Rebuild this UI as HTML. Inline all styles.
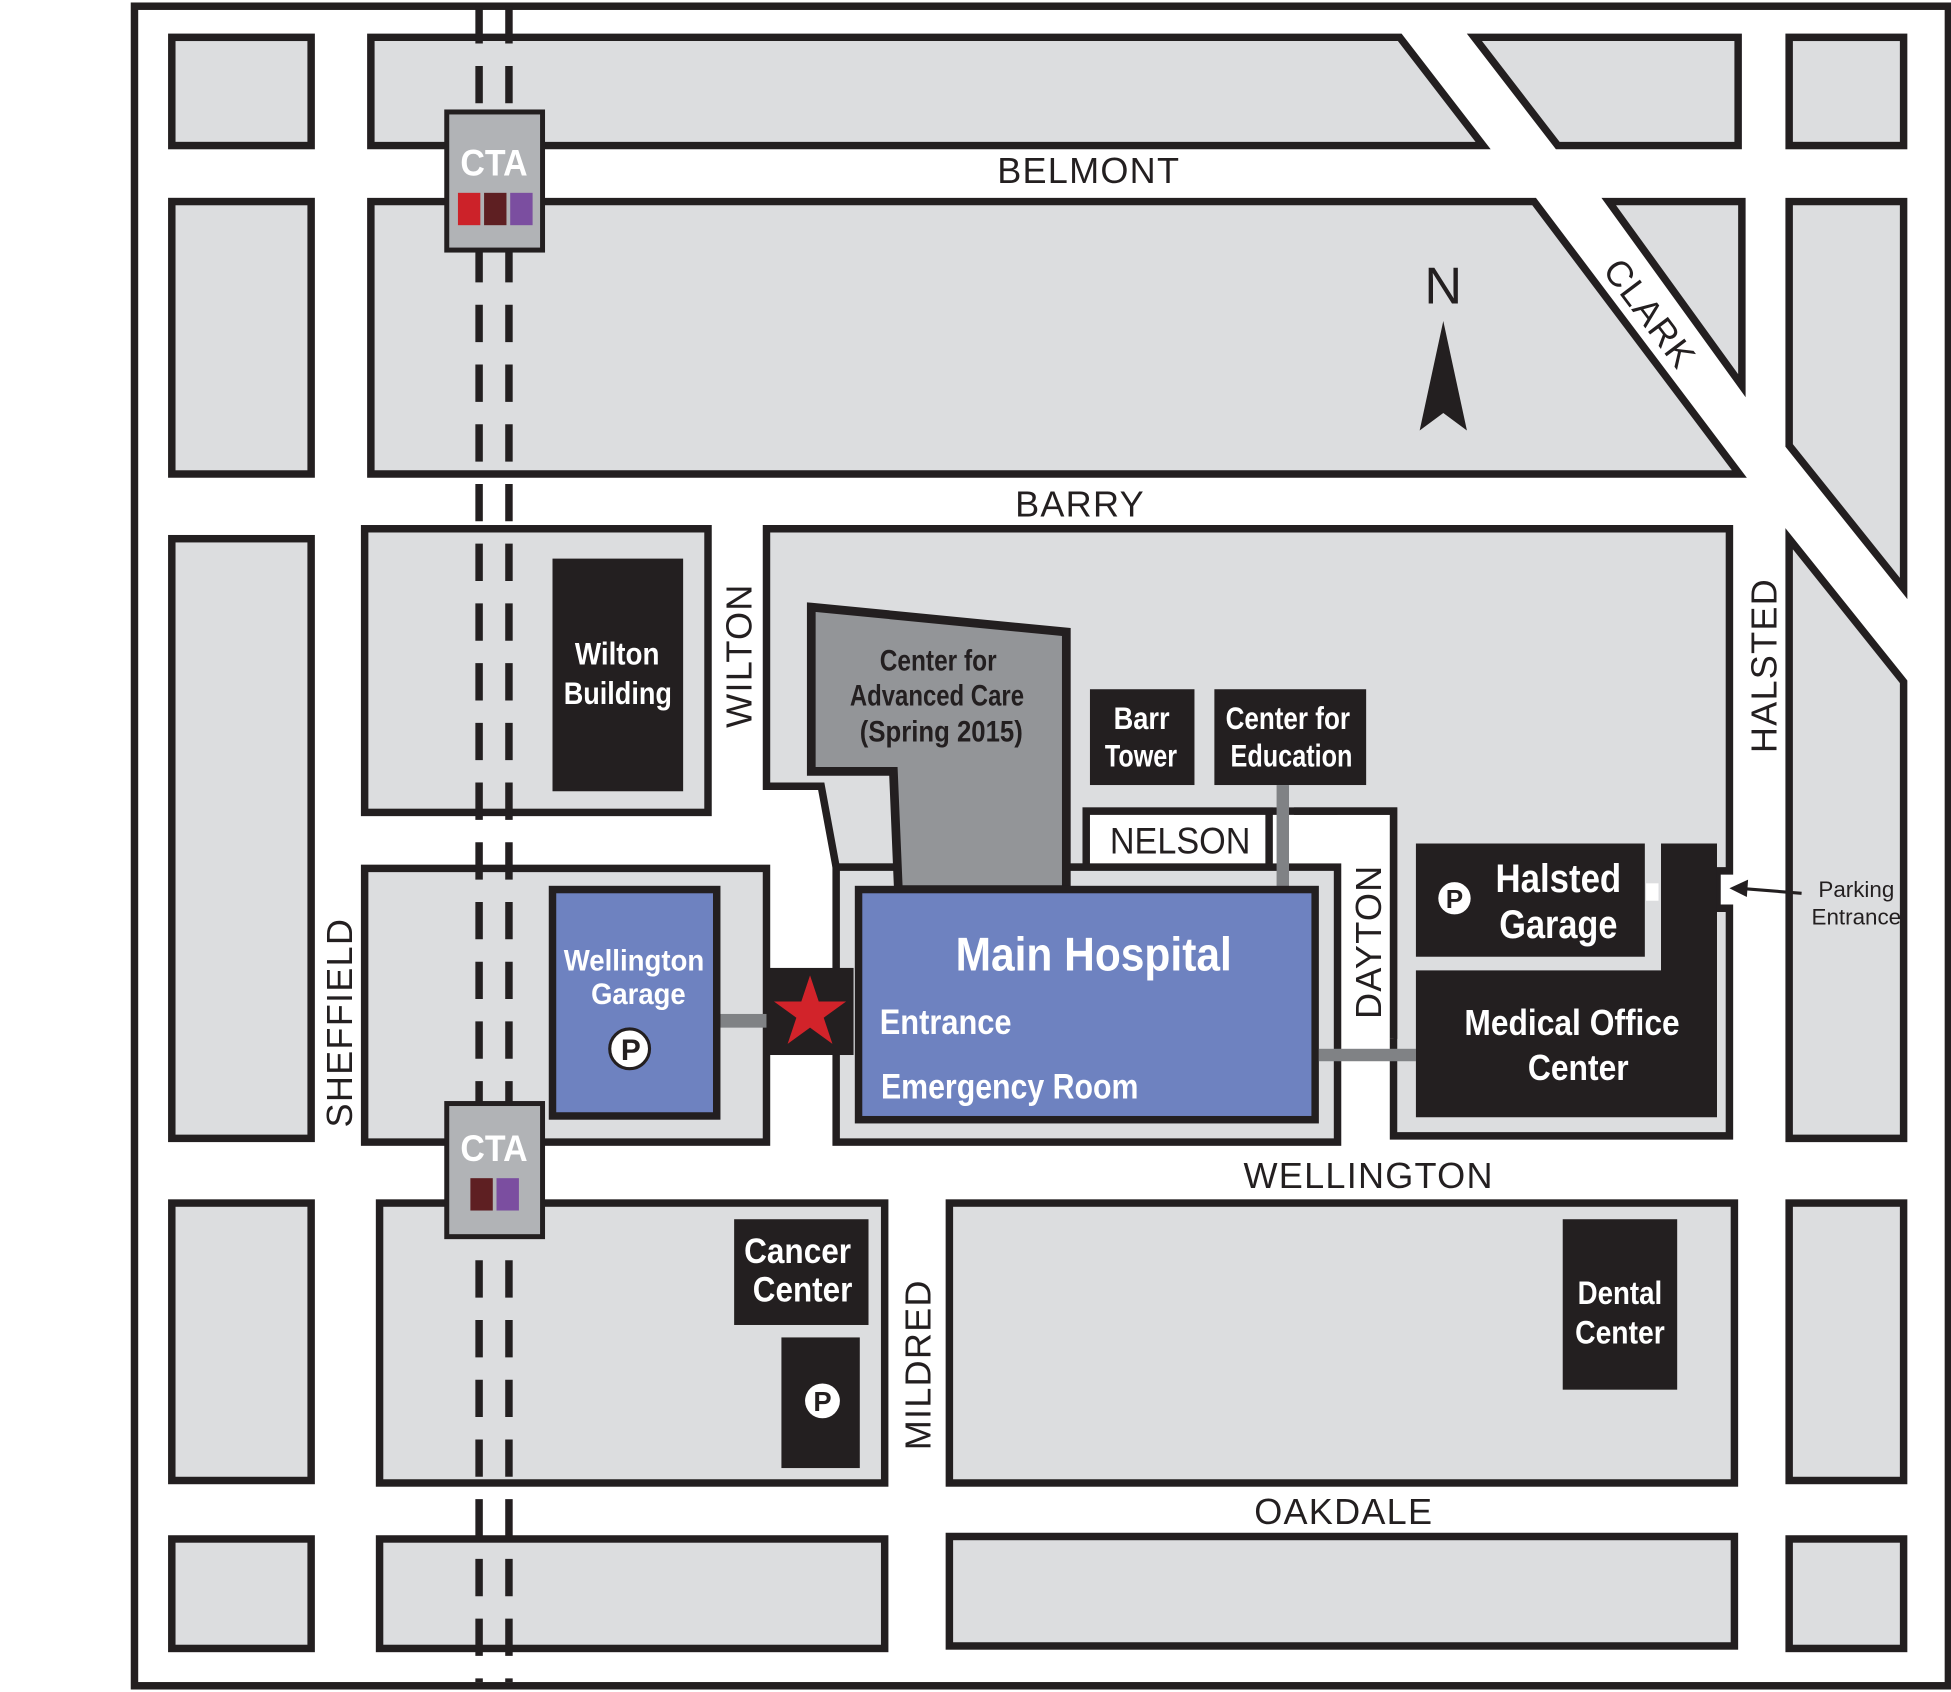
<!DOCTYPE html>
<html><head><meta charset="utf-8"><style>
html,body{margin:0;padding:0;background:#fff;}
svg{display:block}
.b{fill:#dcdddf;stroke:#231f20;stroke-width:6}
.k{fill:#231f20}
.st{font-family:"Liberation Sans",sans-serif;font-size:29px;fill:#231f20;letter-spacing:1px}
.n{font-family:"Liberation Sans",sans-serif;font-weight:bold}
</style></head><body>
<svg width="1951" height="1692" viewBox="0 0 1568 1360" xmlns="http://www.w3.org/2000/svg">
<rect x="0" y="0" width="1568" height="1360" fill="#fff"/>
<rect x="108" y="5" width="1458" height="1350" fill="#fff" stroke="#231f20" stroke-width="6"/>
<!-- row1 -->
<rect class="b" x="138" y="30" width="112" height="87"/>
<polygon class="b" points="298,30 1125,30 1192,117 298,117"/>
<polygon class="b" points="1185,30 1397,30 1397,117 1252,117"/>
<rect class="b" x="1438" y="30" width="92" height="87"/>
<!-- row2 -->
<rect class="b" x="138" y="162" width="112" height="219"/>
<polygon class="b" points="298,162 1233,162 1398,381 298,381"/>
<polygon class="b" points="1293,162 1400,162 1400,310"/>
<polygon class="b" points="1438,162 1530,162 1530,473 1438,358"/>
<!-- row3 -->
<rect class="b" x="138" y="433" width="112" height="482"/>
<rect class="b" x="293" y="425" width="276" height="228"/>
<rect class="b" x="293" y="698" width="323" height="220"/>
<polygon class="b" points="616,425 1390,425 1390,700 1380,700 1380,730 1390,730 1390,913 1120,913 1120,652 873,652 873,697 672,697 660,632 616,632"/>
<rect x="873" y="652" width="147" height="45" fill="#fff" stroke="#231f20" stroke-width="6"/>
<rect x="1075" y="655" width="45" height="180" fill="#fff"/>
<polyline points="1040,652 1120,652 1120,835" fill="none" stroke="#231f20" stroke-width="6"/>
<rect class="b" x="672" y="697" width="403" height="221"/>
<polygon class="b" points="1438,433 1530,548 1530,915 1438,915"/>
<!-- row4 -->
<rect class="b" x="138" y="967" width="112" height="223"/>
<rect class="b" x="305" y="967" width="406" height="225"/>
<rect class="b" x="763" y="967" width="631" height="225"/>
<rect class="b" x="1438" y="967" width="92" height="223"/>
<!-- row5 -->
<rect class="b" x="138" y="1237" width="112" height="88"/>
<rect class="b" x="305" y="1237" width="406" height="88"/>
<rect class="b" x="763" y="1235" width="631" height="88"/>
<rect class="b" x="1438" y="1237" width="92" height="88"/>
<!-- rail -->
<line x1="385" y1="5" x2="385" y2="1352" stroke="#231f20" stroke-width="6" stroke-dasharray="30 18"/>
<line x1="409" y1="5" x2="409" y2="1352" stroke="#231f20" stroke-width="6" stroke-dasharray="30 18"/>
<!-- buildings -->
<rect class="k" x="444" y="449" width="105" height="187"/>
<text class="n" x="462" y="534" font-size="25" fill="#fff" textLength="68" lengthAdjust="spacingAndGlyphs">Wilton</text>
<text class="n" x="453" y="566" font-size="25" fill="#fff" textLength="87" lengthAdjust="spacingAndGlyphs">Building</text>
<polygon points="652,488 857,508 857,715 722,715 718,620 652,620" fill="#939598" stroke="#231f20" stroke-width="7"/>
<text class="n" x="707" y="539" font-size="24" fill="#231f20" textLength="94" lengthAdjust="spacingAndGlyphs">Center for</text>
<text class="n" x="683" y="567" font-size="24" fill="#231f20" textLength="140" lengthAdjust="spacingAndGlyphs">Advanced Care</text>
<text class="n" x="691" y="596" font-size="24" fill="#231f20" textLength="131" lengthAdjust="spacingAndGlyphs">(Spring 2015)</text>
<rect class="k" x="876" y="554" width="84" height="77"/>
<text class="n" x="895" y="586" font-size="25" fill="#fff" textLength="45" lengthAdjust="spacingAndGlyphs">Barr</text>
<text class="n" x="888" y="616" font-size="25" fill="#fff" textLength="58" lengthAdjust="spacingAndGlyphs">Tower</text>
<rect class="k" x="976" y="554" width="122" height="77"/>
<text class="n" x="985" y="586" font-size="25" fill="#fff" textLength="100" lengthAdjust="spacingAndGlyphs">Center for</text>
<text class="n" x="989" y="616" font-size="25" fill="#fff" textLength="98" lengthAdjust="spacingAndGlyphs">Education</text>
<rect x="1026" y="631" width="10" height="84" fill="#808285"/>
<text x="892" y="686" font-family="Liberation Sans,sans-serif" font-size="30" fill="#231f20" textLength="113" lengthAdjust="spacingAndGlyphs">NELSON</text>
<rect x="690" y="715" width="367" height="185" fill="#6e82c0" stroke="#231f20" stroke-width="6"/>
<text class="n" x="768" y="780" font-size="38" fill="#fff" textLength="222" lengthAdjust="spacingAndGlyphs">Main Hospital</text>
<text class="n" x="707" y="831" font-size="28" fill="#fff" textLength="106" lengthAdjust="spacingAndGlyphs">Entrance</text>
<text class="n" x="708" y="883" font-size="28" fill="#fff" textLength="207" lengthAdjust="spacingAndGlyphs">Emergency Room</text>
<rect x="1060" y="843" width="78" height="10" fill="#808285"/>
<rect class="k" x="1138" y="678" width="184" height="91"/>
<circle cx="1169" cy="722" r="13" fill="#fff"/>
<text class="n" x="1169" y="730" font-size="21" fill="#231f20" text-anchor="middle">P</text>
<text class="n" x="1202" y="717" font-size="32" fill="#fff" textLength="101" lengthAdjust="spacingAndGlyphs">Halsted</text>
<text class="n" x="1205" y="754" font-size="32" fill="#fff" textLength="95" lengthAdjust="spacingAndGlyphs">Garage</text>
<polygon class="k" points="1138,780 1335,780 1335,678 1380,678 1380,898 1138,898"/>
<rect x="1323" y="710" width="10" height="14" fill="#fff"/>
<text class="n" x="1177" y="832" font-size="29" fill="#fff" textLength="173" lengthAdjust="spacingAndGlyphs">Medical Office</text>
<text class="n" x="1228" y="868" font-size="29" fill="#fff" textLength="81" lengthAdjust="spacingAndGlyphs">Center</text>
<line x1="1448" y1="718" x2="1398" y2="714" stroke="#231f20" stroke-width="2.5"/>
<polygon points="1390,714 1405,707 1404,721" fill="#231f20"/>
<text x="1492" y="721" font-family="Liberation Sans,sans-serif" font-size="18" text-anchor="middle" fill="#231f20">Parking</text>
<text x="1492" y="743" font-family="Liberation Sans,sans-serif" font-size="18" text-anchor="middle" fill="#231f20">Entrance</text>
<rect x="576" y="815" width="40" height="11" fill="#808285"/>
<rect x="444" y="715" width="132" height="182" fill="#6e82c0" stroke="#231f20" stroke-width="6"/>
<text class="n" x="453" y="780" font-size="24" fill="#fff" textLength="113" lengthAdjust="spacingAndGlyphs">Wellington</text>
<text class="n" x="475" y="807" font-size="24" fill="#fff" textLength="76" lengthAdjust="spacingAndGlyphs">Garage</text>
<circle cx="506" cy="843" r="16" fill="#fff" stroke="#231f20" stroke-width="2.5"/>
<text class="n" x="507" y="852" font-size="24" fill="#231f20" text-anchor="middle">P</text>
<rect class="k" x="616" y="778" width="70" height="70"/>
<polygon fill="#d2232a" points="651,784 658,805 680,805 662,818 669,839 651,826 633,839 640,818 622,805 644,805"/>
<rect class="k" x="590" y="980" width="108" height="85"/>
<text class="n" x="598" y="1015" font-size="28" fill="#fff" textLength="86" lengthAdjust="spacingAndGlyphs">Cancer</text>
<text class="n" x="605" y="1046" font-size="28" fill="#fff" textLength="80" lengthAdjust="spacingAndGlyphs">Center</text>
<rect class="k" x="628" y="1075" width="63" height="105"/>
<circle cx="661" cy="1126" r="14" fill="#fff"/>
<text class="n" x="661" y="1134" font-size="22" fill="#231f20" text-anchor="middle">P</text>
<rect class="k" x="1256" y="980" width="92" height="137"/>
<text class="n" x="1268" y="1048" font-size="26" fill="#fff" textLength="68" lengthAdjust="spacingAndGlyphs">Dental</text>
<text class="n" x="1266" y="1080" font-size="26" fill="#fff" textLength="72" lengthAdjust="spacingAndGlyphs">Center</text>
<!-- CTA -->
<rect x="359" y="90" width="77" height="111" fill="#b1b3b6" stroke="#231f20" stroke-width="4"/>
<text class="n" x="370" y="141" font-size="30" fill="#fff" textLength="54" lengthAdjust="spacingAndGlyphs">CTA</text>
<rect x="368" y="155" width="18" height="26" fill="#cc2229"/>
<rect x="389" y="155" width="18" height="26" fill="#5e1f22"/>
<rect x="410" y="155" width="18" height="26" fill="#7b4ea0"/>
<rect x="359" y="887" width="77" height="107" fill="#b1b3b6" stroke="#231f20" stroke-width="4"/>
<text class="n" x="370" y="933" font-size="30" fill="#fff" textLength="54" lengthAdjust="spacingAndGlyphs">CTA</text>
<rect x="378" y="947" width="18" height="26" fill="#5e1f22"/>
<rect x="399" y="947" width="18" height="26" fill="#7b4ea0"/>
<!-- streets -->
<text class="st" x="875" y="147" text-anchor="middle">BELMONT</text>
<text class="st" x="868" y="415" text-anchor="middle">BARRY</text>
<text class="st" x="1100" y="955" text-anchor="middle">WELLINGTON</text>
<text class="st" x="1080" y="1225" text-anchor="middle">OAKDALE</text>
<text class="st" text-anchor="middle" transform="translate(283,822) rotate(-90)">SHEFFIELD</text>
<text class="st" text-anchor="middle" font-size="26" transform="translate(604,527) rotate(-90)">WILTON</text>
<text class="st" text-anchor="middle" transform="translate(748,1097) rotate(-90)">MILDRED</text>
<text class="st" text-anchor="middle" transform="translate(1110,757) rotate(-90)">DAYTON</text>
<text class="st" text-anchor="middle" transform="translate(1428,535) rotate(-90)">HALSTED</text>
<text class="st" text-anchor="middle" transform="translate(1318,258) rotate(53)">CLARK</text>
<text x="1160" y="244" font-family="Liberation Sans,sans-serif" font-size="42" text-anchor="middle" fill="#231f20">N</text>
<polygon points="1160,258 1141,346 1160,332 1179,346" fill="#231f20"/>
</svg>
</body></html>
